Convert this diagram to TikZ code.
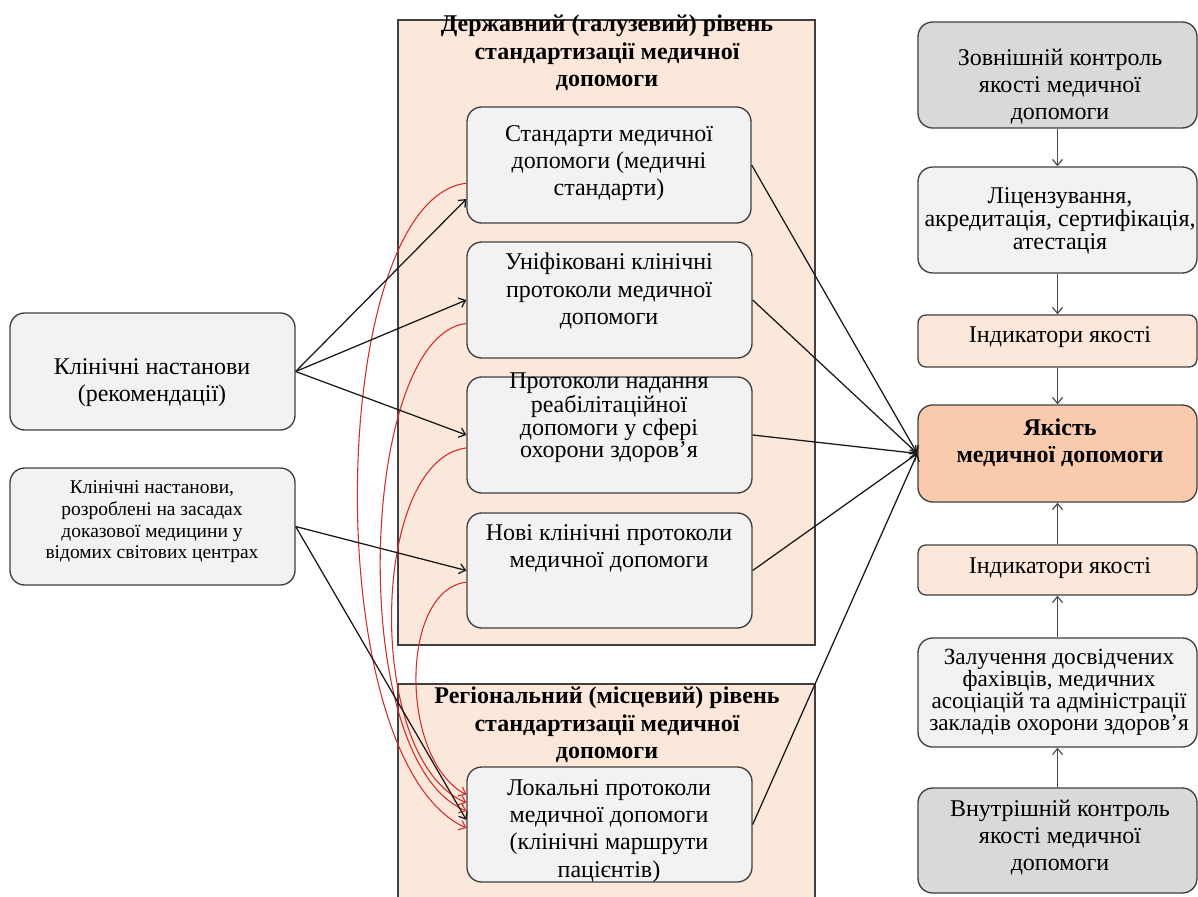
\documentclass[tikz,border=0pt]{standalone}
\usepackage{fontspec}
\setmainfont{Liberation Serif}
\usetikzlibrary{arrows.meta,calc}
\definecolor{peach}{HTML}{FCE8DA}
\definecolor{peachdark}{HTML}{F8CBAD}
\definecolor{boxgray}{HTML}{F2F2F2}
\definecolor{midgray}{HTML}{D9D9D9}
\definecolor{edgecol}{HTML}{404040}
\definecolor{redline}{HTML}{D22B2B}
\newcommand\mybox[6]{\node[#6, minimum width={(#4-#2)*0.75pt}, minimum height={(#5-#3)*0.75pt}] (#1) at ({(#2+#4)/2},{(#3+#5)/2}) {};}
\begin{document}
\begin{tikzpicture}[x=0.75pt,y=-0.75pt,
  container/.style={draw=edgecol, line width=1pt, fill=peach, inner sep=0pt},
  box/.style={draw=edgecol, line width=1pt, fill=boxgray, rounded corners=11pt, inner sep=0pt},
  graybox/.style={box, fill=midgray},
  indbox/.style={box, fill=peach, rounded corners=6pt},
  qbox/.style={box, fill=peachdark},
  txt/.style={align=center, inner sep=0pt, text=black, font=\fontsize{18}{20.3}\selectfont},
  smalltxt/.style={txt, font=\fontsize{14.6}{16.3}\selectfont},
  tighttxt/.style={txt, font=\fontsize{18}{14.5}\selectfont},
  title/.style={align=center, inner sep=0pt, text=black, font=\bfseries\fontsize{18}{20.5}\selectfont},
  blk/.style={draw=black!90, line width=0.95pt, -{Straight Barb[length=4.5pt,width=7.5pt]}},
  colarrow/.style={draw=black!70, line width=0.9pt, -{Straight Barb[length=4.5pt,width=7.5pt]}},
  redarr/.style={draw=redline, line width=0.8pt, -{Straight Barb[length=4.5pt,width=7.5pt]}}
]
\useasboundingbox (0,0) rectangle (1198,896);
\clip (0,0) rectangle (1198,896);

% containers
\mybox{c1}{398}{20}{815}{645}{container}
\mybox{c2}{398}{684}{815}{910}{container}
\node[title] (t1) at (607,53) {Державний (галузевий) рівень\\стандартизації медичної\\допомоги};
\node[title] (t2) at (607,725) {Регіональний (місцевий) рівень\\стандартизації медичної\\допомоги};

% left boxes
\mybox{l1}{10}{313}{295}{430}{box}
\mybox{l2}{10}{468}{295}{585}{box}
\node[txt] (l1t) at (152,383) {Клінічні настанови\\(рекомендації)};
\node[smalltxt] (l2t) at (152,522) {Клінічні настанови,\\розроблені на засадах\\доказової медицини у\\відомих світових центрах};

% middle boxes
\mybox{m1}{467}{107}{751}{223}{box}
\mybox{m2}{467}{242}{752}{358}{box}
\mybox{m3}{467}{377}{752}{493}{box}
\mybox{m4}{467}{513}{752}{628}{box}
\mybox{m5}{467}{767}{752}{882}{box}
\node[txt] (m1t) at (609,163) {Стандарти медичної\\допомоги (медичні\\стандарти)};
\node[txt] (m2t) at (609,291) {Уніфіковані клінічні\\протоколи медичної\\допомоги};
\node[tighttxt] (m3t) at (609,418) {Протоколи надання\\реабілітаційної\\допомоги у сфері\\охорони здоров’я};
\node[txt] (m4t) at (609,548) {Нові клінічні протоколи\\медичної допомоги};
\node[txt] (m5t) at (609,831) {Локальні протоколи\\медичної допомоги\\(клінічні маршрути\\пацієнтів)};

% right column
\mybox{r1}{918}{22}{1197}{128}{graybox}
\mybox{r2}{918}{167}{1197}{273}{box}
\mybox{r3}{918}{315}{1197}{367}{indbox}
\mybox{q}{918}{405}{1197}{502}{qbox}
\mybox{r4}{918}{545}{1197}{595}{indbox}
\mybox{r5}{918}{638}{1197}{747}{box}
\mybox{r6}{918}{788}{1197}{893}{graybox}
\node[txt] (r1t) at (1060,87) {Зовнішній контроль\\якості медичної\\допомоги};
\node[txt, font=\fontsize{18}{17.5}\selectfont] (r2t) at (1060,221) {Ліцензування,\\акредитація, сертифікація,\\атестація};
\node[txt] (r3t) at (1060,337) {Індикатори якості};
\node[txt, font=\bfseries\fontsize{18}{20.3}\selectfont] (qt) at (1060,443) {Якість\\медичної допомоги};
\node[txt] (r4t) at (1060,568) {Індикатори якості};
\node[txt, font=\fontsize{17.4}{16.6}\selectfont] (r5t) at (1059,692) {Залучення досвідчених\\фахівців, медичних\\асоціацій та адміністрації\\закладів охорони здоров’я};
\node[txt] (r6t) at (1060,838) {Внутрішній контроль\\якості медичної\\допомоги};

% column arrows
\draw[colarrow] (r1.south) -- (r2.north);
\draw[colarrow] (r2.south) -- (r3.north);
\draw[colarrow] (r3.south) -- (q.north);
\draw[colarrow] (r6.north) -- (r5.south);
\draw[colarrow] (r5.north) -- (r4.south);
\draw[colarrow] (r4.north) -- (q.south);

% red curves
\draw[redarr] ($(m1.north west)!0.655!(m1.south west)$) .. controls +(-140,17) and +(-150,-68) .. ($(m5.north west)!0.53!(m5.south west)$);
\draw[redarr] ($(m2.north west)!0.70!(m2.south west)$) .. controls +(-107,12) and +(-122,-51) .. ($(m5.north west)!0.383!(m5.south west)$);
\draw[redarr] ($(m3.north west)!0.61!(m3.south west)$) .. controls +(-97,12) and +(-102,-43) .. ($(m5.north west)!0.313!(m5.south west)$);
\draw[redarr] ($(m4.north west)!0.60!(m4.south west)$) .. controls +(-67,8) and +(-67,-35) .. ($(m5.north west)!0.243!(m5.south west)$);

% black arrows from left
\draw[blk] (l1.east) -- ($(m1.north west)!0.79!(m1.south west)$);
\draw[blk] (l1.east) -- (m2.west);
\draw[blk] (l1.east) -- (m3.west);
\draw[blk] (l2.east) -- (m4.west);
\draw[blk] (l2.east) -- ($(m5.north west)!0.46!(m5.south west)$);

% arrows to quality
\draw[blk] (m1.east) -- (q.west);
\draw[blk] (m2.east) -- (q.west);
\draw[blk] (m3.east) -- (q.west);
\draw[blk] (m4.east) -- (q.west);
\draw[blk] (m5.east) -- (q.west);
\end{tikzpicture}
\end{document}
